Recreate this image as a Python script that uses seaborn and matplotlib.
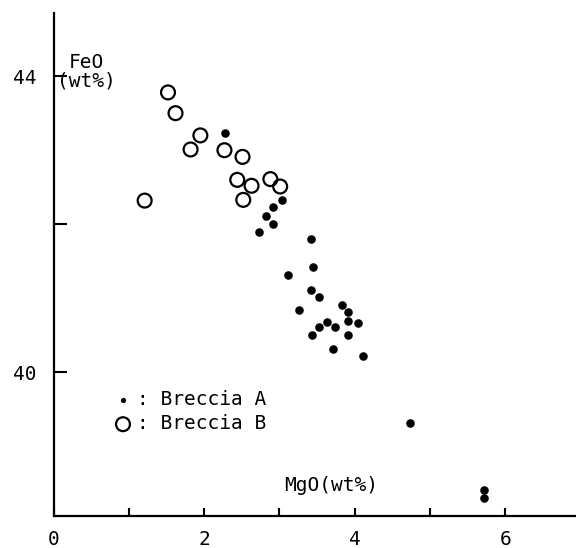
import matplotlib
matplotlib.use("Agg")
import matplotlib.pyplot as plt
import seaborn as sns
import pandas as pd

# Breccia A (filled dots)
mgo_a = [2.28, 3.04, 2.92, 2.82, 2.92, 2.73, 3.42, 3.44, 3.12, 3.42, 3.52, 3.26,
         3.83, 3.91, 3.91, 4.05, 3.63, 3.52, 3.74, 3.43, 3.91, 3.71, 4.11, 4.73,
         5.72, 5.72]
feo_a = [43.23, 42.33, 42.23, 42.11, 42.01, 41.89, 41.80, 41.42, 41.31, 41.11, 41.02, 40.84,
         40.91, 40.81, 40.70, 40.67, 40.68, 40.62, 40.62, 40.50, 40.50, 40.32, 40.22, 39.32,
         38.42, 38.31]

# Breccia B (open circles)
mgo_b = [1.52, 1.62, 1.95, 1.82, 2.27, 2.51, 2.44, 2.63, 2.88, 3.01, 2.52, 1.21]
feo_b = [43.78, 43.50, 43.20, 43.01, 43.00, 42.91, 42.60, 42.52, 42.61, 42.51, 42.33, 42.32]

x_ticks = [0, 1, 2, 3, 4, 5, 6]
x_labels = ["0", "", "2", "", "4", "", "6"]
y_ticks = [40, 42, 44]
y_labels = ["40", "", "44"]

df_a = pd.DataFrame({"MgO": mgo_a, "FeO": feo_a})
df_b = pd.DataFrame({"MgO": mgo_b, "FeO": feo_b})

sns.set_style("white")
plt.rcParams["font.family"] = ["DejaVu Sans Mono", "DejaVu Sans"]
plt.rcParams["text.color"] = "black"

fig = plt.figure(figsize=(5.76, 5.48), dpi=100)
ax = fig.add_axes([0.093, 0.058, 0.907, 0.918])

sns.scatterplot(data=df_a, x="MgO", y="FeO", ax=ax, color="black", s=38,
                edgecolor="black", linewidth=0, label=": Breccia A")
sns.scatterplot(data=df_b, x="MgO", y="FeO", ax=ax, facecolor="none", s=100,
                edgecolor="black", linewidth=1.6, label=": Breccia B")

ax.set_xlim(0, 6.94)
ax.set_ylim(38.06, 44.85)
ax.set_xticks(x_ticks, x_labels)
ax.set_yticks(y_ticks, y_labels)
ax.tick_params(axis="x", bottom=True, direction="in", length=6, width=1.5, pad=10,
               labelsize=14, colors="black")
ax.tick_params(axis="y", left=True, direction="in", length=9, width=1.5, pad=12,
               labelsize=14, colors="black")

sns.despine(ax=ax)
for side in ["left", "bottom"]:
    ax.spines[side].set_linewidth(1.6)
    ax.spines[side].set_color("black")

ax.set_xlabel("")
ax.set_ylabel("")
ax.text(0.063, 0.884, "FeO\n(wt%)", transform=ax.transAxes, ha="center", va="center",
        fontsize=14, linespacing=1.0)
ax.text(0.531, 0.062, "MgO(wt%)", transform=ax.transAxes, ha="center", va="center",
        fontsize=14)

leg = ax.legend(loc="upper left", bbox_to_anchor=(0.118, 0.25), frameon=False,
                fontsize=14, handlelength=0.8, handletextpad=0.3, labelspacing=0.25,
                borderpad=0, borderaxespad=0)
leg.legend_handles[0].set_sizes([14])

fig.savefig("out.png", dpi=100)
